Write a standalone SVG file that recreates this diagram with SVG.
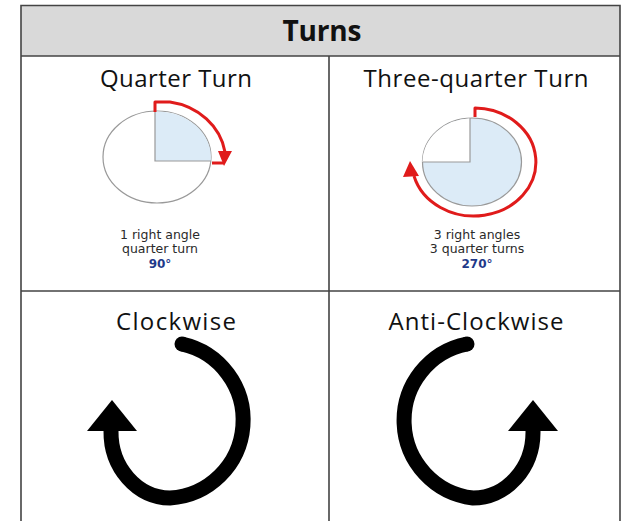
<svg xmlns="http://www.w3.org/2000/svg" width="621" height="521" viewBox="0 0 621 521">
<style>
.grid{stroke:#444;stroke-width:1.6;fill:none}
.ttl{font-family:"Open Sans","Liberation Sans",sans-serif;font-size:24px;fill:#111;text-anchor:middle}
.small{font-family:"DejaVu Sans","Liberation Sans",sans-serif;font-size:12.5px;fill:#2a2a2a;text-anchor:middle}
.deg{font-family:"DejaVu Sans","Liberation Sans",sans-serif;font-size:12px;font-weight:bold;fill:#1f3a8a;text-anchor:middle}
.red{stroke:#e01b1b;stroke-width:3;fill:none;stroke-linejoin:round}
.outline{stroke:#999;stroke-width:1.2}
.big{stroke:#000;stroke-width:15;fill:none}
</style>
<rect x="0" y="0" width="621" height="521" fill="#fff"/>
<g id="table">
<rect x="21" y="5.5" width="599" height="50.5" fill="#d9d9d9"/>
<path class="grid" d="M21,530 V5.5 H620 V530 M21,56 H620 M329,56 V530 M21,291 H620"/>
<text x="322" y="41" font-family="'Open Sans','Liberation Sans',sans-serif" font-weight="bold" font-size="28" fill="#111" text-anchor="middle" textLength="79">Turns</text>
</g>
<g id="quarter">
<text class="ttl" x="176" y="87" textLength="152">Quarter Turn</text>
<ellipse cx="157" cy="157" rx="54" ry="46" fill="#fff" class="outline"/>
<path d="M155,161 V111.5 A54,46 0 0 1 210.8,161 Z" fill="#dcebf7"/>
<path d="M155,111.5 V161 H211" fill="none" class="outline"/>
<path class="red" d="M155,112 V102 H170 A66,60 0 0 1 225,152"/>
<polygon points="218,151 232,151 224,166" fill="#e01b1b"/>
<path class="red" d="M224,163 H212"/>
<text class="small" x="160" y="239">1 right angle</text>
<text class="small" x="160" y="253">quarter turn</text>
<text class="deg" x="160" y="268">90°</text>
</g>
<g id="three-quarter">
<text class="ttl" x="476" y="87" textLength="225">Three-quarter Turn</text>
<ellipse cx="472" cy="162" rx="49.5" ry="44" fill="#dcebf7" class="outline"/>
<path d="M470,162 V118.2 A49.5,44 0 0 0 422.5,162 Z" fill="#fff"/>
<path d="M470,118 V162 H423" fill="none" class="outline"/>
<path class="red" d="M475,117 V108 A62,54 0 1 1 414,176"/>
<polygon points="410,161 403,177 419,176" fill="#e01b1b"/>
<text class="small" x="477" y="239">3 right angles</text>
<text class="small" x="477" y="253">3 quarter turns</text>
<text class="deg" x="477" y="268">270°</text>
</g>
<g id="clockwise">
<text class="ttl" x="176" y="330" textLength="120">Clockwise</text>
<path class="big" d="M182,344 A78,78 0 0 1 170,498 A60,66 0 0 1 111,431"/>
<circle cx="182" cy="344" r="7.5" fill="#000"/>
<polygon points="112,400 87,431 137,431" fill="#000"/>
</g>
<g id="anticlockwise">
<text class="ttl" x="476" y="330" textLength="175">Anti-Clockwise</text>
<path class="big" d="M467,344 A78,78 0 0 0 473,498 A60,66 0 0 0 533,431"/>
<circle cx="467" cy="344" r="7.5" fill="#000"/>
<polygon points="533,400 508,431 558,431" fill="#000"/>
</g>
</svg>
